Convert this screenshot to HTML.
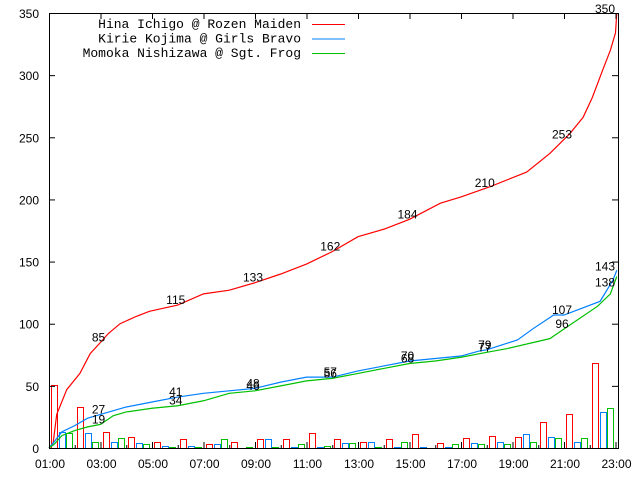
<!DOCTYPE html>
<html><head><meta charset="utf-8"><style>
body{margin:0;background:#fff;}
svg{display:block;font-family:"Liberation Mono","DejaVu Sans Mono",monospace;}
</style></head><body>
<svg id="chart" width="640" height="480" viewBox="0 0 640 480" xmlns="http://www.w3.org/2000/svg"></svg>
<script>
// ---- data ----
const hours = [1,2,3,4,5,6,7,8,9,10,11,12,13,14,15,16,17,18,19,20,21,22];
const redCounts   = [51,33,13,9,5,7,3,5,7,7,12,7,5,7,11,4,8,10,9,21,27,68];
const blueCounts  = [13,12,5,4,2,2,3,0,7,1,1,4,5,1,1,1,4,5,11,9,5,29];
const greenCounts = [12,5,8,3,1,1,7,1,1,3,2,4,1,5,0,3,3,3,5,8,8,32];
const redT   = [1,1.16,1.3,1.69,2.2,2.6,3,3.3,3.76,4.4,4.9,6,7,8,9,10,11,12,13,14,15,16.2,17,18.1,19.55,20.45,21.23,21.74,22.1,22.5,22.8,23.0,23.05];
const redV   = [0,4,27,47,60,76,85,92,100,106,110,115,124,127,133,140,148,158,170,176,184,197,202,210,222,237,253,266,282,304,320,334,350];
const blueT  = [1,1.2,1.5,2,2.5,3,4,5,6,7,8,9,10,11,12,13,14,15,16,17,17.7,18,19.2,19.8,20.6,21,22.4,22.9,23.05];
const blueV  = [0,5,13,18,24,27,33,37,41,44,46,48,53,57,57,62,66,70,72,74,78,79,87,96,107,107,118,135,143];
const greenT = [1,1.2,1.5,2,2.5,3,3.5,4,5,6,7,8,9,10,11,12,13,14,15,16,17,18,18.8,20.45,20.95,22.3,22.8,23.05];
const greenV = [0,3,10,14,17,19,26,29,32,34,38,44,46,50,54,56,60,64,68,70,73,77,80,88,95,114,124,138];
const labelHours = [3,6,9,12,15,18,21];
const redLabels = [85,115,133,162,184,210,253];
const blueLabels = [27,41,48,57,70,79,107];
const greenLabels = [19,34,46,56,68,77,96];
const yTicks = [0,50,100,150,200,250,300,350];
const xTickLabels = ["01:00","03:00","05:00","07:00","09:00","11:00","13:00","15:00","17:00","19:00","21:00","23:00"];
const xTickHours = [1,3,5,7,9,11,13,15,17,19,21,23];

// ---- axes ----
const L=49,R=618,T=13,B=448;
const X=h=>L+(h-1)*25.75;
const Y=v=>B-v*(B-T)/350;
const NS="http://www.w3.org/2000/svg";
const svg=document.getElementById('chart');
function mk(tag,attrs,parent){const e=document.createElementNS(NS,tag);for(const k in attrs)e.setAttribute(k,attrs[k]);(parent||svg).appendChild(e);return e;}

// bars
const barSeries=[[redCounts,'#ff0000',2,'bar-red'],[blueCounts,'#0080ff',10,'bar-blue'],[greenCounts,'#00c000',17,'bar-green']];
barSeries.forEach(([arr,col,off,nm])=>{
  arr.forEach((c,i)=>{
    const x=X(hours[i])+off;
    const r=mk('rect',{x:Math.round(x)+0.5,y:Math.round(Y(c))+0.5,width:6,height:Math.max(0,B-Math.round(Y(c))),fill:'none',stroke:col,'stroke-width':1});
    
    
  });
});

// cumulative lines (fine staircase approximated as polyline)
function linePath(ts,vs){let d='M'+X(ts[0])+','+Y(vs[0]);for(let i=1;i<ts.length;i++){d+=' L'+X(ts[i])+','+Y(vs[i]);}return d;}
[[redT,redV,'#ff0000','line-hina'],[blueT,blueV,'#0080ff','line-kirie'],[greenT,greenV,'#00c000','line-momoka']].forEach(([t,v,c,nm])=>{
  const p=mk('path',{d:linePath(t,v),fill:'none',stroke:c,'stroke-width':1.2});
  
  
});

// value labels
function interp(ts,vs,h){for(let i=1;i<ts.length;i++){if(ts[i]>=h){const f=(h-ts[i-1])/(ts[i]-ts[i-1]);return vs[i-1]+f*(vs[i]-vs[i-1]);}}return vs[vs.length-1];}
[[redT,redV,redLabels],[blueT,blueV,blueLabels],[greenT,greenV,greenLabels]].forEach(([t,v,labs])=>{
  labelHours.forEach((h,i)=>{
    const tx=mk('text',{x:X(h)-2,y:Y(interp(t,v,h))-1,'font-size':12,'text-anchor':'middle','font-family':'Liberation Sans, sans-serif'});
    tx.textContent=labs[i];
    
    
  });
});
[[350,redV,0],[143,blueV,0],[138,greenV,10]].forEach(([lab,vs,dy])=>{
  const tx=mk('text',{x:605,y:Y(vs[vs.length-1])+dy,'font-size':12,'text-anchor':'middle','font-family':'Liberation Sans, sans-serif'});
  tx.textContent=lab;
  
  
});

// frame
const fr=mk('rect',{x:L+0.5,y:T+0.5,width:R-L,height:B-T,fill:'none',stroke:'#000','stroke-width':1});



// y ticks
yTicks.forEach(v=>{
  mk('line',{x1:L,x2:L+6,y1:Y(v)+0.5,y2:Y(v)+0.5,stroke:'#000'});
  mk('line',{x1:R-6,x2:R,y1:Y(v)+0.5,y2:Y(v)+0.5,stroke:'#000'});
  const t=mk('text',{x:39,y:Y(v)+5,'font-size':12,'text-anchor':'end','font-family':'Liberation Sans, sans-serif'});
  t.textContent=v;
  
  
});
// x ticks
for(let h=1;h<=23;h++){
  const len=(h%2===1)?6:3;
  mk('line',{x1:X(h)+0.5,x2:X(h)+0.5,y1:B-len,y2:B,stroke:'#000'});
  if(h%2===1) mk('line',{x1:X(h)+0.5,x2:X(h)+0.5,y1:T,y2:T+6,stroke:'#000'});
}
xTickHours.forEach((h,i)=>{
  const t=mk('text',{x:X(h)+1,y:468,'font-size':12,'text-anchor':'middle','font-family':'Liberation Sans, sans-serif'});
  t.textContent=xTickLabels[i];
  
  
});

// legend
const legend=[["Hina Ichigo @ Rozen Maiden","#ff0000"],["Kirie Kojima @ Girls Bravo","#0080ff"],["Momoka Nishizawa @ Sgt. Frog","#00c000"]];
legend.forEach(([name,col],i)=>{
  const y=24+i*14.5;
  const t=mk('text',{x:301,y:y+4,'font-size':13,'text-anchor':'end'});
  t.textContent=name;
  
  
  mk('line',{x1:312,x2:345,y1:y+0.5,y2:y+0.5,stroke:col});
});
</script>
</body></html>
